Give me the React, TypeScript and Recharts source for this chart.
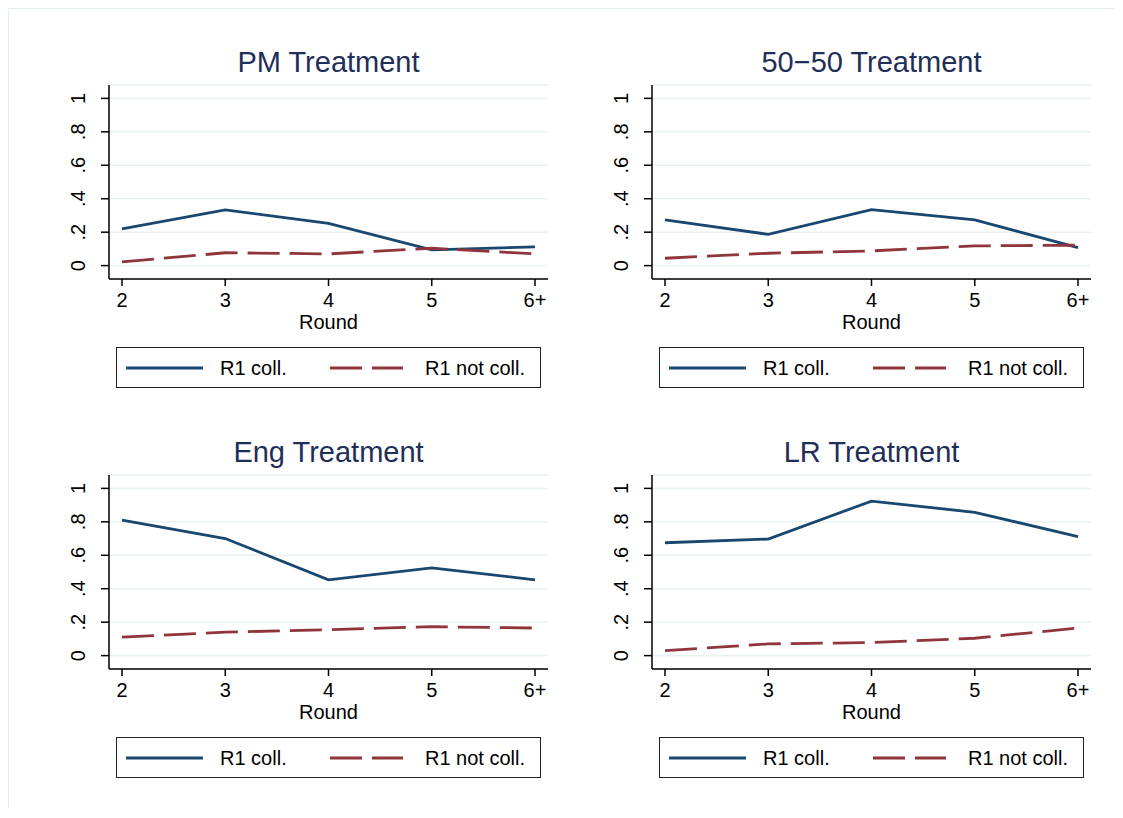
import { CartesianGrid, Line, LineChart, XAxis, YAxis } from "recharts";

const rounds = ["2", "3", "4", "5", "6+"];

const panelTitles = ["PM Treatment", "50\u221250 Treatment", "Eng Treatment", "LR Treatment"];

// share of R1 collusion
const pmColl = [0.219, 0.333, 0.253, 0.094, 0.112];
const pmNotColl = [0.022, 0.077, 0.07, 0.104, 0.07];
const fiftyColl = [0.273, 0.187, 0.335, 0.273, 0.108];
const fiftyNotColl = [0.044, 0.074, 0.088, 0.118, 0.122];
const engColl = [0.81, 0.7, 0.453, 0.525, 0.453];
const engNotColl = [0.11, 0.14, 0.155, 0.173, 0.165];
const lrColl = [0.675, 0.697, 0.924, 0.857, 0.712];
const lrNotColl = [0.03, 0.07, 0.078, 0.104, 0.165];

const yTicks = [0, 0.2, 0.4, 0.6, 0.8, 1];
const yTickLabels = ["0", ".2", ".4", ".6", ".8", "1"];

const seriesNames = ["R1 coll.", "R1 not coll."];

const FONT = "'Liberation Sans', Arial, Helvetica, sans-serif";
const NAVY = "#1a476f";
const MAROON = "#90353b";
const DASH = "32 10";

const YTick = (props: any) => {
  const { x, y, payload } = props;
  const i = yTicks.indexOf(payload.value);
  return (
    <text
      x={x}
      y={y}
      transform={`rotate(-90 ${x} ${y})`}
      textAnchor="middle"
      fontSize={20}
      fill="#000"
      fontFamily={FONT}
    >
      {i >= 0 ? yTickLabels[i] : payload.value}
    </text>
  );
};

const Panel = ({ title, coll, notColl, dx, dy }: any) => {
  const data = rounds.map((r, i) => ({ round: r, coll: coll[i], notColl: notColl[i] }));
  return (
    <>
      <div
        style={{
          position: "absolute",
          left: 101 + dx,
          top: 40 + dy,
          width: 439,
          textAlign: "center",
          fontFamily: FONT,
          fontSize: 29,
          lineHeight: "29px",
          color: "#1f2f57",
        }}
      >
        {title}
      </div>
      <div style={{ position: "absolute", left: 52 + dx, top: 62 + dy }}>
        <LineChart width={500} height={269} data={data} margin={{ top: 15, right: 12, left: 0, bottom: 0 }}>
          <CartesianGrid horizontal vertical={false} stroke="#e9f1f3" strokeWidth={1.5} />
          <XAxis
            dataKey="round"
            type="category"
            scale="point"
            padding={{ left: 13, right: 13 }}
            height={60}
            tickSize={7}
            tickMargin={7}
            interval={0}
            axisLine={{ stroke: "#000", strokeWidth: 1.5 }}
            tickLine={{ stroke: "#000", strokeWidth: 1.5 }}
            tick={{ fontSize: 20, fill: "#000", fontFamily: FONT }}
            label={{ value: "Round", position: "insideBottom", offset: 10, fontSize: 20, fill: "#000", fontFamily: FONT }}
          />
          <YAxis
            type="number"
            domain={[-0.08, 1.08]}
            ticks={yTicks}
            width={49}
            tickSize={8}
            tickMargin={16}
            axisLine={{ stroke: "#000", strokeWidth: 1.5 }}
            tickLine={{ stroke: "#000", strokeWidth: 1.5 }}
            tick={<YTick />}
          />
          <Line
            type="linear"
            dataKey="coll"
            stroke={NAVY}
            strokeWidth={2.8}
            dot={false}
            isAnimationActive={false}
          />
          <Line
            type="linear"
            dataKey="notColl"
            stroke={MAROON}
            strokeWidth={2.8}
            strokeDasharray={DASH}
            dot={false}
            isAnimationActive={false}
          />
        </LineChart>
      </div>
      <div
        style={{
          position: "absolute",
          left: 108 + dx,
          top: 339 + dy,
          width: 425,
          height: 41,
          boxSizing: "border-box",
          border: "1px solid #222",
          fontFamily: FONT,
          fontSize: 20,
          color: "#000",
        }}
      >
        <svg width={425} height={39} style={{ position: "absolute", left: 0, top: 0 }}>
          <line x1={9} x2={86} y1={20} y2={20} stroke={NAVY} strokeWidth={2.8} />
          <line x1={213} x2={286} y1={20} y2={20} stroke={MAROON} strokeWidth={2.8} strokeDasharray={DASH} />
          <text x={103} y={27} fontSize={20} fontFamily={FONT} fill="#000">
            {seriesNames[0]}
          </text>
          <text x={308} y={27} fontSize={20} fontFamily={FONT} fill="#000">
            {seriesNames[1]}
          </text>
        </svg>
      </div>
    </>
  );
};

export default function App() {
  return (
    <div style={{ position: "relative", width: 1115, height: 800, background: "#fff" }}>
      <div
        style={{
          position: "absolute",
          left: 0,
          top: 0,
          width: 1115,
          height: 810,
          borderTop: "1px solid #e3edf0",
          borderLeft: "1px solid #e3edf0",
          boxSizing: "border-box",
        }}
      />
      <Panel title={panelTitles[0]} coll={pmColl} notColl={pmNotColl} dx={0} dy={0} />
      <Panel title={panelTitles[1]} coll={fiftyColl} notColl={fiftyNotColl} dx={543} dy={0} />
      <Panel title={panelTitles[2]} coll={engColl} notColl={engNotColl} dx={0} dy={390} />
      <Panel title={panelTitles[3]} coll={lrColl} notColl={lrNotColl} dx={543} dy={390} />
    </div>
  );
}
